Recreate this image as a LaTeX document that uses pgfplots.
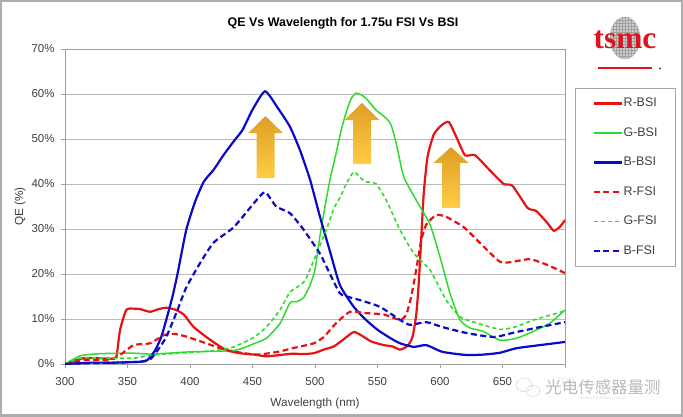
\documentclass[border=0pt]{standalone}
\usepackage{pgfplots}
\pgfplotsset{compat=1.18}
\usepackage{fontspec}
\setmainfont{Liberation Sans}
\newfontfamily\seriffont{Liberation Serif}
\newfontfamily\cjk{Noto Sans CJK SC}
\usetikzlibrary{shadings}
\definecolor{qred}{RGB}{232,18,18}
\definecolor{qgreen}{RGB}{45,220,45}
\definecolor{qblue}{RGB}{10,10,200}
\definecolor{tickgray}{RGB}{64,64,64}
\definecolor{arrtop}{RGB}{222,158,35}
\definecolor{arrmid}{RGB}{255,190,10}
\definecolor{arrbot}{RGB}{255,205,70}
\definecolor{tsmcred}{RGB}{220,20,30}

\begin{document}
\begin{tikzpicture}
\useasboundingbox (-65bp,-53bp) rectangle (618bp,364bp);
\begin{scope}[shift={(-65bp,-53bp)}, x=1bp, y=1bp]
\fill[white] (0,0) rectangle (683,417);
% title
\node[font=\bfseries\fontsize{12.5}{15}\selectfont, text=black] at (343,394) {QE Vs Wavelength for 1.75u FSI Vs BSI};
% tsmc logo
\begin{scope}
\clip (625,379) ellipse (15 and 21);
\fill[gray!40] (625,379) ellipse (15 and 21);
\foreach \i in {-21,-18,...,21} {
  \draw[gray!75, line width=0.3bp] (625+\i,356) -- (625+\i,402);
  \draw[gray!75, line width=0.3bp] (608,379+\i) -- (642,379+\i);
}
\end{scope}
\draw[gray!60, line width=0.4bp] (625,379) ellipse (15 and 21);
\node[font=\seriffont\bfseries\fontsize{31.5}{31.5}\selectfont, text=tsmcred, inner sep=0pt] at (625,377) {tsmc};
\draw[tsmcred, line width=1.2bp] (598,349) -- (652,349);
\fill[black!70] (660,348.5) circle (1.2);
\end{scope}

\begin{axis}[
  scale only axis, width=500bp, height=315bp,
  xmin=300, xmax=700, ymin=0, ymax=70,
  xtick={300,350,...,700}, ytick={0,10,...,70},
  /pgf/number format/assume math mode=true,
  yticklabel={\pgfmathprintnumber{\tick}\%},
  ymajorgrids,
  grid style={gray!55, line width=0.8bp},
  axis line style={gray!75, line width=0.8bp},
  tick style={gray!75, line width=0.8bp},
  tick align=outside, major tick length=4bp,
  xtick pos=bottom, ytick pos=left,
  tick label style={font=\fontsize{11.5}{13}\selectfont, text=tickgray},
  xticklabel style={yshift=-6bp},
  yticklabel style={xshift=-3bp},
  xlabel={Wavelength (nm)}, ylabel={QE (\%)},
  every axis x label/.style={at={(axis description cs:0.5,-0.124)}, anchor=center,
     font=\fontsize{11.8}{13}\selectfont, text=tickgray},
  every axis y label/.style={at={(axis description cs:-0.09,0.5)}, rotate=90, anchor=center,
     font=\fontsize{11.8}{13}\selectfont, text=tickgray},
  legend style={at={(1.02,0.876)}, anchor=north west, draw=gray!70, line width=0.8bp,
    fill=white, inner xsep=17bp, inner ysep=8.25bp, row sep=16bp,
    font=\fontsize{12.5}{14}\selectfont, text=tickgray,
    nodes={inner sep=1bp, text height=9bp, text depth=2.5bp}},
  legend cell align=left,
  legend image code/.code={\draw[#1] (0bp,0bp) -- (28bp,0bp);},
  every axis plot/.append style={smooth, tension=0.35},
]

\addplot[qred, line width=2.2bp] coordinates {
(300,0) (315,1.3) (336,1.2) (341,1.5) (344,7.5) (349,12) (355,12.3) (360,12.2) (368,11.6) (375,12.2) (381,12.5) (388,12.1) (395,11) (403,8.2) (416,5.4) (429,3.1) (440,2.4) (451,2.1) (461,1.7) (472,2.0) (482,2.3) (490,2.2) (499,2.4) (507,3.2) (515,3.9) (522,5.3) (531,7.1) (538,6.2) (545,5.0) (555,4.2) (562,3.9) (568,3.2) (574,4.0) (578,6) (581,11) (583,18) (585,28) (587,38) (590,46) (595,51) (601,53) (607,53.8) (613,50.5) (620,46.4) (628,46.4) (640,43) (651,40) (658,39.6) (670,34.7) (677,34) (686,31.3) (691,29.6) (696,30.5) (700,32)
};
\addlegendentry{R-BSI}

\addplot[qgreen, line width=1.5bp] coordinates {
(300,0) (312,1.8) (328,2.3) (355,2.4) (370,2.2) (400,2.7) (435,3) (451,4.5) (461,5.7) (472,9) (480,13.6) (486,13.9) (491,14.8) (496,17.5) (500,21) (504,28.5) (508,35) (512,41) (517,47) (521,52) (525,56) (529,59) (533,60.2) (537,59.8) (541,59) (549,56.4) (557,54.6) (561,53) (565,49) (571,41.6) (581,36.4) (592,31) (600,23.8) (608,15.7) (616,9.8) (624,8) (634,7.3) (648,5.3) (661,5.7) (675,7.3) (688,9.1) (700,12)
};
\addlegendentry{G-BSI}

\addplot[qblue, line width=2.2bp] coordinates {
(300,0) (320,0.3) (340,0.3) (360,0.5) (366,0.9) (372,3) (377,6) (381,9.8) (386,15) (390,20) (397,29.8) (404,36) (411,40.5) (419,43.2) (427,46.5) (435,49.5) (442,52) (450,56.5) (460,60.6) (470,57) (480,52.7) (488,47.5) (496,41) (504,32.7) (512,25) (520,17.5) (531,12.7) (540,10) (550,7.6) (560,5.8) (568,4.6) (579,3.8) (589,4.2) (602,2.7) (621,2.0) (635,2.1) (648,2.5) (661,3.5) (680,4.2) (700,4.9)
};
\addlegendentry{B-BSI}

\addplot[qred, line width=2.2bp, dash pattern=on 6bp off 3.5bp] coordinates {
(300,0) (315,0.9) (336,1.0) (344,2) (355,4.2) (368,4.6) (379,6.4) (387,6.7) (397,6.1) (413,4.6) (429,3.1) (451,2.1) (461,2.3) (472,2.8) (482,3.5) (490,4.0) (499,4.6) (507,6) (517,9.1) (528,11.6) (541,11.3) (555,11) (568,9.8) (573,11) (577,15) (581,21) (585,27.5) (589,31) (597,33.1) (605,32.7) (619,30.4) (632,26.9) (648,22.7) (658,22.7) (672,23.3) (686,22) (700,20.2)
};
\addlegendentry{R-FSI}

\addplot[qgreen, line width=1.6bp, dash pattern=on 4bp off 3bp] coordinates {
(300,0) (312,1.3) (330,1.3) (355,1.3) (370,2) (397,2.5) (421,3) (435,3.8) (451,5.9) (461,8.2) (472,12) (480,16) (487,17.3) (492,18.5) (499,23) (509,29.8) (515,34.5) (520,37) (525,40) (531,42.7) (537,41.2) (541,40.5) (549,40) (557,36.4) (568,29.8) (579,24.6) (592,20.9) (605,14.2) (616,10.5) (627,9.3) (648,7.7) (661,8.3) (675,9.8) (700,11.8)
};
\addlegendentry{G-FSI}

\addplot[qblue, line width=2.2bp, dash pattern=on 6bp off 3.5bp] coordinates {
(300,0) (320,0.2) (340,0.3) (360,0.5) (368,1) (374,3) (381,6) (390,12) (397,17) (408,22.4) (419,27) (435,30.4) (451,35.7) (460,38.2) (469,35) (480,33.5) (491,29.8) (504,24.5) (512,20) (520,15.7) (528,14.8) (536,14.2) (552,12.7) (568,9.8) (576,8.7) (589,9.3) (602,8.2) (621,6.9) (643,6) (661,7.1) (680,8.2) (700,9.3)
};
\addlegendentry{B-FSI}

% arrows
\shade[top color=arrtop, middle color=arrmid, bottom color=arrbot]
 (axis cs:453.2,41.3) -- (axis cs:453.2,51.3) -- (axis cs:446.4,51.3) -- (axis cs:460.4,55.1) -- (axis cs:474.4,51.3) -- (axis cs:467.6,51.3) -- (axis cs:467.6,41.3) -- cycle;
\shade[top color=arrtop, middle color=arrmid, bottom color=arrbot]
 (axis cs:530.4,44.4) -- (axis cs:530.4,54.2) -- (axis cs:523.6,54.2) -- (axis cs:537.6,58) -- (axis cs:551.6,54.2) -- (axis cs:544.8,54.2) -- (axis cs:544.8,44.4) -- cycle;
\shade[top color=arrtop, middle color=arrmid, bottom color=arrbot]
 (axis cs:601.6,34.7) -- (axis cs:601.6,44.7) -- (axis cs:594.8,44.7) -- (axis cs:608.8,48.2) -- (axis cs:622.8,44.7) -- (axis cs:616.0,44.7) -- (axis cs:616.0,34.7) -- cycle;
\end{axis}

\begin{scope}[shift={(-65bp,-53bp)}, x=1bp, y=1bp]
% watermark
\fill[white, opacity=0.88, rounded corners=6bp] (512,14) rectangle (679,47);
\draw[gray!60, dash pattern=on 1bp off 1bp, line width=0.5bp] (524,32) ellipse (8 and 6.5);
\draw[gray!60, dash pattern=on 1bp off 1bp, line width=0.5bp] (533,26) ellipse (7 and 5.5);
\node[font=\cjk\fontsize{16.5}{17}\selectfont, text=gray!55] at (603,30) {光电传感器量测};
\node[font=\fontsize{4.5}{5}\selectfont, text=gray!25] at (603,19) {www.instrument.com.cn};
% outer frame
\draw[gray!65, line width=2bp] (1,1.5) rectangle (682,416);
\draw[gray!65, line width=1.5bp] (1,2.5) -- (682,2.5);
\end{scope}
\end{tikzpicture}
\end{document}
